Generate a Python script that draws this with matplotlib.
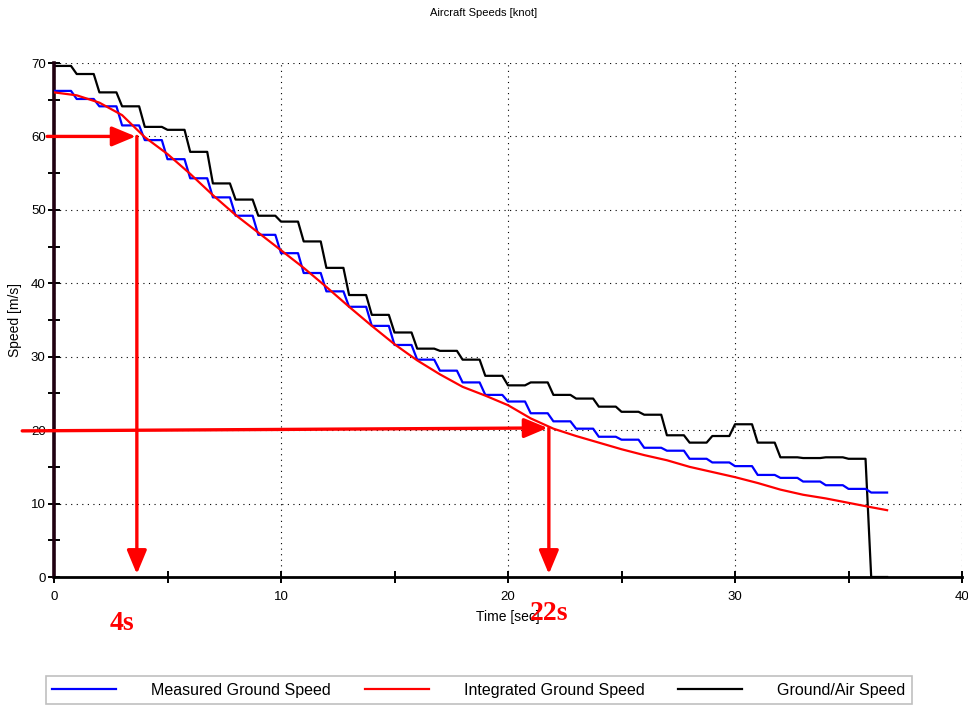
import numpy as np
import matplotlib
matplotlib.use("Agg")
import matplotlib.pyplot as plt
from matplotlib.patches import ArrowStyle

plt.rcParams['font.family'] = ['Liberation Sans', 'DejaVu Sans']

# speed levels sampled once per second (t = 0 .. 36)
measured_ground = [66.2, 65.1, 64.1, 61.5, 59.5, 56.9, 54.3, 51.7, 49.2, 46.6,
                   44.1, 41.4, 38.9, 36.8, 34.2, 31.6, 29.6, 28.1, 26.5, 24.8,
                   23.9, 22.3, 21.2, 20.2, 19.1, 18.7, 17.6, 17.2, 16.1, 15.6,
                   15.1, 13.9, 13.5, 13.0, 12.5, 12.0, 11.5]
ground_air = [69.6, 68.5, 66.0, 64.1, 61.3, 60.9, 57.9, 53.6, 51.4, 49.2,
              48.4, 45.7, 42.1, 38.4, 35.7, 33.3, 31.1, 30.8, 29.6, 27.4,
              26.1, 26.5, 24.8, 24.3, 23.2, 22.5, 22.1, 19.3, 18.3, 19.2,
              20.8, 18.3, 16.3, 16.2, 16.3, 16.1, 0.0]
t_end = 36.7

# integrated ground speed (smooth)
t_int = list(range(37)) + [36.7]
integrated_ground = [66.0, 65.6, 64.6, 62.9, 59.9, 57.6, 54.9, 52.0, 49.3, 46.9,
                     44.5, 42.1, 39.5, 36.8, 34.2, 31.7, 29.5, 27.6, 25.9, 24.7,
                     23.4, 21.6, 20.2, 19.2, 18.3, 17.4, 16.6, 15.9, 15.0, 14.3,
                     13.6, 12.8, 11.9, 11.2, 10.7, 10.1, 9.5, 9.1]

# read-off markers
mark_times = [3.65, 21.8]
mark_speeds = [60.0, 20.3]
mark_labels = ['4s', '22s']


def held(levels, hold=0.75):
    t, v = [], []
    for k, lv in enumerate(levels):
        t += [k, k + hold]
        v += [lv, lv]
    t[-1] = t_end
    return t, v


fig = plt.figure(figsize=(9.68, 7.06), dpi=100)
ax = fig.add_axes([54 / 968, 1 - 577 / 706, 908 / 968, 514 / 706])

tb, vb = held(measured_ground)
tk, vk = held(ground_air)
ax.plot(tb, vb, color='#0000ff', lw=1.6, label='Measured Ground Speed', zorder=3)
ax.plot(t_int, integrated_ground, color='#ff0000', lw=1.6, label='Integrated Ground Speed', zorder=4)
ax.plot(tk, vk, color='black', lw=1.6, label='Ground/Air Speed', zorder=2)

ax.set_xlim(0, 40)
ax.set_ylim(0, 70)
ax.set_xticks(np.arange(0, 41, 10))
ax.set_xticks(np.arange(5, 40, 10), minor=True)
ax.set_yticks(np.arange(0, 71, 10))
ax.set_yticks(np.arange(5, 70, 10), minor=True)
ax.tick_params(which='both', direction='inout', length=8, width=1.4, labelsize=9.5, colors='black')
ax.tick_params(axis='y', pad=2)
ax.tick_params(axis='x', pad=6)
ax.grid(True, which='major', color='black', linestyle=(0, (1, 4)), lw=0.8)

for s in ['top', 'right']:
    ax.spines[s].set_visible(False)
ax.spines['left'].set_linewidth(2.6)
ax.spines['left'].set_color('#200010')
ax.spines['bottom'].set_linewidth(2.0)

ax.set_xlabel('Time [sec]', fontsize=10, labelpad=5)
ax.set_ylabel('Speed [m/s]', fontsize=10, labelpad=6)
fig.suptitle('Aircraft Speeds [knot]', fontsize=8, y=0.989)

# red read-off arrows
astyle = ArrowStyle('-|>', head_length=1.2, head_width=0.5)
start_x = [-0.3, -1.4]
start_y = [60.0, 19.9]
for x0, y0, tm, sp in zip(start_x, start_y, mark_times, mark_speeds):
    ax.annotate('', xy=(tm - 0.05, sp), xytext=(x0, y0),
                arrowprops=dict(arrowstyle=astyle, color='#ff0000', lw=2.4,
                                mutation_scale=12, shrinkA=0, shrinkB=0),
                annotation_clip=False, zorder=6)
    ax.annotate('', xy=(tm, 0.4), xytext=(tm, sp),
                arrowprops=dict(arrowstyle=astyle, color='#ff0000', lw=2.4,
                                mutation_scale=12, shrinkA=0, shrinkB=0),
                annotation_clip=False, zorder=6)

ax.text(3.0, -6.3, mark_labels[0], color='#ff0000', fontsize=20, fontweight='bold',
        family='Liberation Serif', ha='center', va='center', clip_on=False)
ax.text(21.8, -5.0, mark_labels[1], color='#ff0000', fontsize=20, fontweight='bold',
        family='Liberation Serif', ha='center', va='center', clip_on=False)

leg = fig.legend(loc='lower left', bbox_to_anchor=(46 / 968, 2 / 706, 866 / 968, 28 / 706),
                 mode='expand', ncol=3, fontsize=11.5, handlelength=4.0, handletextpad=2.2,
                 frameon=True, fancybox=False, borderaxespad=0, borderpad=0.4)
leg.get_frame().set_edgecolor('#b0b0b0')
leg.get_frame().set_linewidth(1.2)

fig.savefig('out.png', dpi=100)
